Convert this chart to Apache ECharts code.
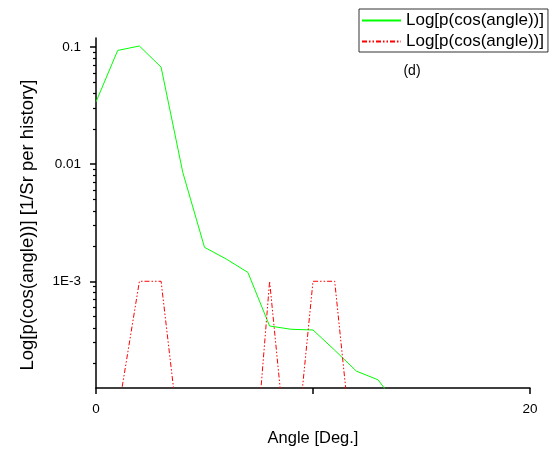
<!DOCTYPE html>
<html>
<head>
<meta charset="utf-8">
<script src="https://cdn.jsdelivr.net/npm/echarts@6/dist/echarts.min.js"></script>
<style>
html,body{margin:0;padding:0;background:#fff;}
#chart{width:554px;height:452px;}
</style>
</head>
<body>
<div id="chart"></div>
<script>
// ---- data ----
const greenAngles = [0, 1, 2, 3, 4, 5, 6, 7, 8, 9, 10, 11, 12, 13, 14];
const greenValues = [0.034, 0.0935, 0.102, 0.0673, 0.0085, 0.00195, 0.00155, 0.00119, 0.000415, 0.000389, 0.000384, 0.000258, 0.000171, 0.000144, 0.000082];
const redAngles = [1, 2, 3, 4, 7, 8, 9, 10, 11, 12];
const redValues = [0.000073, 0.001, 0.001, 0.0000255, 0.000005, 0.001, 0.0000133, 0.001, 0.001, 0.0000158];
const seriesNames = ['Log[p(cos(angle))]', 'Log[p(cos(angle))] '];
const xTickLabels = [0, 20];
const xTicks = [0, 10, 20];
const yMajorTicks = [0.1, 0.01, 0.001];
const yMajorLabels = ['0.1', '0.01', '1E-3'];
const xTitle = 'Angle [Deg.]';
const yTitle = 'Log[p(cos(angle))] [1/Sr per history]';
const panelLabel = '(d)';
const yMin = 0.0001227, yMax = 0.1194;

const FONT = 'Liberation Sans, Arial, sans-serif';
const L = Math.log10;
const yMinorTicks = [];
for (let e = -4; e <= -1; e++) {
  for (let k = 2; k <= 9; k++) {
    const v = k * Math.pow(10, e);
    if (v >= yMin && v <= yMax) yMinorTicks.push(L(v));
  }
}
const majorLog = yMajorTicks.map(L);
const labelFor = v => {
  for (let i = 0; i < majorLog.length; i++) if (Math.abs(majorLog[i] - v) < 1e-6) return yMajorLabels[i];
  return '';
};

const chart = echarts.init(document.getElementById('chart'), null, {renderer: 'canvas'});
const axisLineStyle = {color: '#000', width: 1.5};
chart.setOption({
  animation: false,
  backgroundColor: '#fff',
  grid: {left: 96, right: 24, top: 38, bottom: 58, containLabel: false},
  xAxis: {
    type: 'value', min: 0, max: 20,
    axisLine: {show: true, lineStyle: axisLineStyle},
    axisTick: {show: true, inside: false, length: 6, customValues: xTicks, lineStyle: {color: '#000', width: 1.5}},
    axisLabel: {show: true, customValues: xTickLabels, margin: 14, color: '#000', fontSize: 13.5, fontFamily: FONT},
    splitLine: {show: false},
    name: xTitle, nameLocation: 'middle', nameGap: 42,
    nameTextStyle: {color: '#000', fontSize: 16.5, fontFamily: FONT}
  },
  yAxis: [{
    type: 'value', min: L(yMin), max: L(yMax),
    axisLine: {show: true, lineStyle: axisLineStyle},
    axisTick: {show: true, inside: false, length: 6, customValues: majorLog, lineStyle: {color: '#000', width: 1.5}},
    axisLabel: {show: true, customValues: majorLog, margin: 15, color: '#000', fontSize: 13.5, fontFamily: FONT, formatter: labelFor},
    splitLine: {show: false}
  }, {
    type: 'value', min: L(yMin), max: L(yMax), position: 'left', offset: 0,
    axisLine: {show: false},
    axisTick: {show: true, inside: false, length: 3, customValues: yMinorTicks, lineStyle: {color: '#000', width: 1.2}},
    axisLabel: {show: false},
    splitLine: {show: false}
  }],
  legend: {
    orient: 'vertical', left: 359, top: 9,
    padding: [3, 4, 2, 2],
    borderColor: '#333', borderWidth: 1,
    itemWidth: 39, itemHeight: 14, itemGap: 4,
    itemStyle: {opacity: 0},
    textStyle: {color: '#000', fontSize: 17, fontFamily: FONT},
    formatter: n => n.trim(),
    data: seriesNames
  },
  graphic: [{
    type: 'text', x: 27.5, y: 225, rotation: Math.PI / 2,
    style: {text: yTitle, fill: '#000', font: '18.5px ' + FONT, textAlign: 'center', textVerticalAlign: 'middle'}
  }, {
    type: 'text', x: 412, y: 71,
    style: {text: panelLabel, fill: '#000', font: '14px ' + FONT, textAlign: 'center', textVerticalAlign: 'middle'}
  }],
  series: [{
    name: seriesNames[0], type: 'line', symbol: 'none', clip: true,
    lineStyle: {color: '#00ff00', width: 1},
    itemStyle: {color: '#00ff00'},
    data: greenAngles.map((a, i) => [a, L(greenValues[i])])
  }, {
    name: seriesNames[1], type: 'line', symbol: 'none', clip: true, yAxisIndex: 0,
    lineStyle: {color: '#ff0000', width: 1, type: [5, 2, 1.5, 2, 1.5, 2]},
    itemStyle: {color: '#ff0000'},
    data: redAngles.map((a, i) => [a, L(redValues[i])])
  }]
});
</script>
</body>
</html>
